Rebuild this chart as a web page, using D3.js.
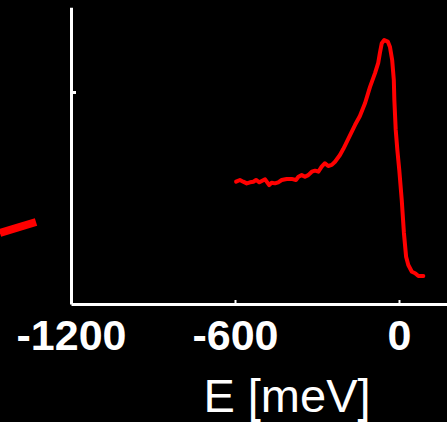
<!DOCTYPE html>
<html>
<head>
<meta charset="utf-8">
<script src="https://cdn.jsdelivr.net/npm/d3@7"></script>
<style>
  html, body { margin: 0; padding: 0; background: #000; }
  svg { display: block; }
</style>
</head>
<body>
<div id="chart"></div>
<script>
// energy (meV) and intensity (arb. units)
var energy = [-596, -582, -570, -557, -545, -533, -523, -511, -502, -490, -484, -475, -466, -454,
  -442, -429, -411, -393, -377, -368, -356, -344, -332, -319, -307, -295, -283, -271, -259,
  -246, -234, -216, -204, -186, -161, -143, -124, -106, -88, -76, -70, -63, -54, -41, -33,
  -25, -19, -17, -12, -6, 1, 10, 18, 26, 34, 47, 59, 71, 89];
var intensity = [0.577, 0.585, 0.577, 0.569, 0.574, 0.577, 0.585, 0.574, 0.580, 0.588, 0.577,
  0.561, 0.572, 0.569, 0.574, 0.585, 0.590, 0.590, 0.585, 0.600, 0.608, 0.600, 0.608, 0.624,
  0.629, 0.624, 0.648, 0.664, 0.651, 0.656, 0.671, 0.703, 0.731, 0.778, 0.844, 0.887, 0.948,
  1.024, 1.088, 1.137, 1.183, 1.230, 1.245, 1.238, 1.212, 1.151, 1.057, 0.962, 0.821, 0.726,
  0.632, 0.491, 0.335, 0.223, 0.184, 0.152, 0.145, 0.132, 0.132];

// piece of a neighbouring curve, left of the axis
var sideEnergy = [-1460, -1328];
var sideIntensity = [0.335, 0.387];

var xTicks = [-1200, -600, 0];
var yTicks = [1];

var width = 447, height = 422;

var svg = d3.select('#chart').append('svg')
  .attr('width', width)
  .attr('height', height)
  .style('background', '#000');

var x = d3.scaleLinear().domain([-1200, 200]).range([71, 71 + 1400 * 164 / 600]);
var y = d3.scaleLinear().domain([0, 1.4]).range([304, 304 - 1.4 * 212]);

var line = d3.line()
  .x(function (d) { return x(d[0]); })
  .y(function (d) { return y(d[1]); });

// axes
var xAxis = svg.append('g')
  .attr('transform', 'translate(0,304)')
  .call(d3.axisBottom(x).tickValues(xTicks).tickSizeInner(-4).tickSizeOuter(0)
    .tickFormat(d3.format('d')));

xAxis.select('.domain').attr('stroke', '#fff').attr('stroke-width', 3);
xAxis.selectAll('.tick line').attr('stroke', '#fff').attr('stroke-width', 2);
xAxis.selectAll('.tick text')
  .attr('fill', '#fff')
  .attr('y', 46)
  .attr('dy', 0)
  .style('font-family', '"Liberation Sans", Arial, sans-serif')
  .style('font-weight', 'bold')
  .style('font-size', '43px')
  .text(function (d) { return d === 0 ? '0' : String(d).replace('\u2212', '-'); });

var yAxis = svg.append('g')
  .attr('transform', 'translate(71,0)')
  .call(d3.axisLeft(y).tickValues(yTicks).tickSizeInner(-5).tickSizeOuter(0)
    .tickFormat(''));

yAxis.select('.domain').attr('stroke', '#fff').attr('stroke-width', 3);
yAxis.selectAll('.tick line').attr('stroke', '#fff').attr('stroke-width', 3);

svg.append('text')
  .attr('x', 287)
  .attr('y', 412)
  .attr('text-anchor', 'middle')
  .attr('fill', '#fff')
  .style('font-family', '"Liberation Sans", Arial, sans-serif')
  .style('font-size', '47px')
  .text('E [meV]');

// curves
svg.append('path')
  .datum(d3.zip(energy, intensity))
  .attr('fill', 'none')
  .attr('stroke', '#ff0000')
  .attr('stroke-width', 4)
  .attr('stroke-linejoin', 'round')
  .attr('stroke-linecap', 'round')
  .attr('d', line);

svg.append('path')
  .datum(d3.zip(sideEnergy, sideIntensity))
  .attr('fill', 'none')
  .attr('stroke', '#ff0000')
  .attr('stroke-width', 8)
  .attr('d', line);
</script>
</body>
</html>
